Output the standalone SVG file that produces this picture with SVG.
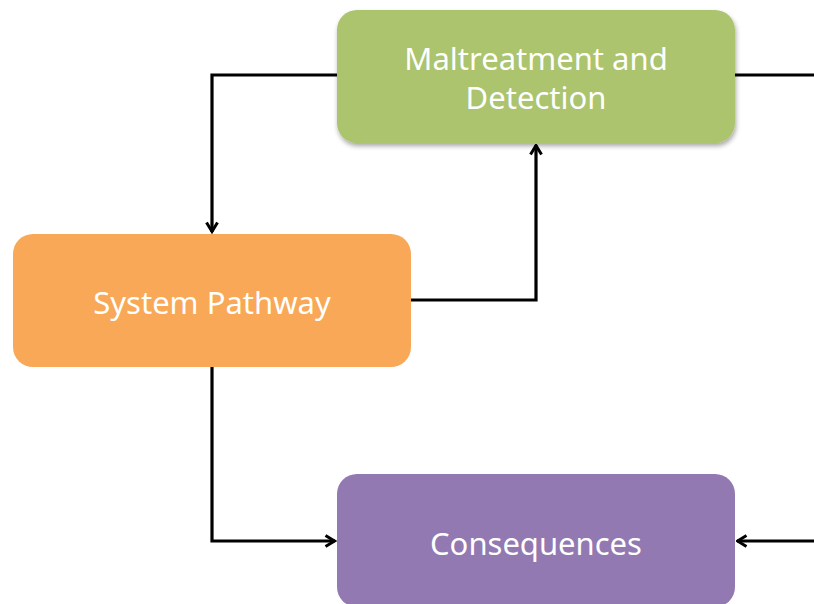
<svg xmlns="http://www.w3.org/2000/svg" width="814" height="604" viewBox="0 0 814 604">
<style>
.lbl{font-family:"Noto Sans","Liberation Sans",sans-serif;font-size:31px;fill:#ffffff;text-anchor:middle}
.conn{fill:none;stroke:#000;stroke-width:3.2;stroke-linejoin:miter}
</style>
<defs>
<marker id="arr" viewBox="0 0 14 14" refX="12.5" refY="7" markerWidth="14" markerHeight="14" markerUnits="userSpaceOnUse" orient="auto">
<path d="M3,1.5 L12,7 L3,12.5" fill="none" stroke="#000" stroke-width="3"/>
</marker>
<filter id="sh" x="-10%" y="-10%" width="120%" height="130%">
<feGaussianBlur in="SourceAlpha" stdDeviation="2.5"/>
<feOffset dx="1" dy="3"/>
<feComponentTransfer><feFuncA type="linear" slope="0.35"/></feComponentTransfer>
<feMerge><feMergeNode/><feMergeNode in="SourceGraphic"/></feMerge>
</filter>
</defs>
<g id="connectors">
<path class="conn" d="M337,75 H212 V232" marker-end="url(#arr)"/>
<path class="conn" d="M411,300 H536 V145" marker-end="url(#arr)"/>
<path class="conn" d="M735,75 H814"/>
<path class="conn" d="M212,367 V541 H335" marker-end="url(#arr)"/>
<path class="conn" d="M814,541 H737" marker-end="url(#arr)"/>
</g>
<g id="maltreatment">
<rect x="337" y="10" width="398" height="133" rx="20" fill="#abc46d" filter="url(#sh)"/>
<text class="lbl" x="536" y="70">Maltreatment and</text>
<text class="lbl" x="536" y="109">Detection</text>
</g>
<g id="system-pathway">
<rect x="13" y="234" width="398" height="133" rx="20" fill="#f8a857"/>
<text class="lbl" x="212" y="314">System Pathway</text>
</g>
<g id="consequences">
<rect x="337" y="474" width="398" height="133" rx="20" fill="#9279b1"/>
<text class="lbl" x="536" y="555">Consequences</text>
</g>
</svg>
